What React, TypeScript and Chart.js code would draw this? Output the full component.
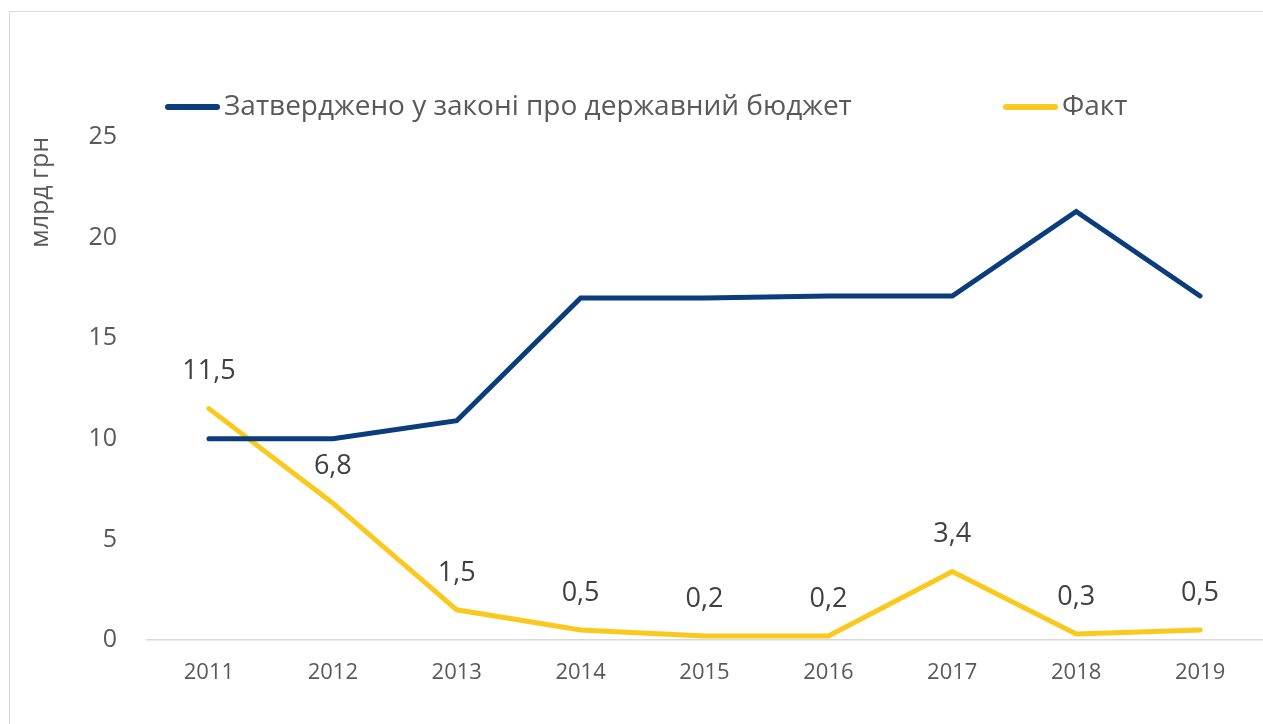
import React, { useEffect, useRef } from 'react';
import { Chart, registerables } from 'chart.js';

Chart.register(...registerables);

const years = ['2011', '2012', '2013', '2014', '2015', '2016', '2017', '2018', '2019'];
const approved = [10, 10, 10.9, 17, 17, 17.1, 17.1, 21.3, 17.1];
const actual = [11.5, 6.8, 1.5, 0.5, 0.2, 0.2, 3.4, 0.3, 0.5];
const yTickValues = [0, 5, 10, 15, 20, 25];
const seriesNames = ['Затверджено у законі про державний бюджет', 'Факт'];
const yAxisTitle = 'млрд грн';

const FONT = "'Open Sans', 'Noto Sans', sans-serif";
const BLUE = '#0B3D7D';
const YELLOW = '#F9C91E';
const GRAY_TEXT = '#595959';
const LABEL_TEXT = '#404040';

const legendPlugin = {
  id: 'customLegend',
  afterDraw(chart: any) {
    const ctx = chart.ctx;
    const items = [
      { lineStart: 165, y: 107 },
      { lineStart: 1003, y: 107 },
    ];
    ctx.save();
    chart.data.datasets.forEach((ds: any, i: number) => {
      const it = items[i];
      ctx.strokeStyle = ds.borderColor;
      ctx.lineWidth = 6;
      ctx.lineCap = 'round';
      ctx.beginPath();
      ctx.moveTo(it.lineStart + 3, it.y);
      ctx.lineTo(it.lineStart + 52, it.y);
      ctx.stroke();
      ctx.fillStyle = GRAY_TEXT;
      ctx.font = `28px ${FONT}`;
      ctx.textAlign = 'left';
      ctx.textBaseline = 'middle';
      ctx.fillText(ds.label, it.lineStart + 59, it.y);
    });
    ctx.restore();
  },
};

const dataLabelPlugin = {
  id: 'dataLabels',
  afterDatasetsDraw(chart: any) {
    const ctx = chart.ctx;
    const meta = chart.getDatasetMeta(1);
    const values = chart.data.datasets[1].data as number[];
    ctx.save();
    ctx.fillStyle = LABEL_TEXT;
    ctx.font = `27px ${FONT}`;
    ctx.textAlign = 'center';
    ctx.textBaseline = 'middle';
    meta.data.forEach((pt: any, i: number) => {
      const txt = values[i].toFixed(1).replace('.', ',');
      ctx.fillText(txt, pt.x, pt.y - 37);
    });
    ctx.restore();
  },
};

export default function App() {
  const ref = useRef<HTMLCanvasElement | null>(null);

  useEffect(() => {
    if (!ref.current) return;
    const chart = new Chart(ref.current, {
      type: 'line',
      data: {
        labels: years,
        datasets: [
          {
            label: seriesNames[0],
            data: approved,
            borderColor: BLUE,
            backgroundColor: BLUE,
            borderWidth: 5,
            pointRadius: 0,
            pointHoverRadius: 0,
            borderCapStyle: 'round',
            borderJoinStyle: 'miter',
            tension: 0,
          },
          {
            label: seriesNames[1],
            data: actual,
            borderColor: YELLOW,
            backgroundColor: YELLOW,
            borderWidth: 5,
            pointRadius: 0,
            pointHoverRadius: 0,
            borderCapStyle: 'round',
            borderJoinStyle: 'miter',
            tension: 0,
          },
        ],
      },
      options: {
        animation: false,
        responsive: false,
        maintainAspectRatio: false,
        layout: { padding: { left: 0, right: 1, top: 137, bottom: 0 } },
        plugins: {
          legend: { display: false },
          tooltip: { enabled: false },
        },
        scales: {
          x: {
            offset: true,
            grid: { display: false, drawTicks: false },
            border: { display: true, color: '#D9D9D9', width: 1.5 },
            ticks: {
              color: GRAY_TEXT,
              font: { family: FONT, size: 22 },
              padding: 20,
              maxRotation: 0,
              autoSkip: false,
            },
            afterFit(scale: any) {
              scale.height = 84;
            },
          },
          y: {
            min: 0,
            max: 25,
            afterBuildTicks(scale: any) {
              scale.ticks = yTickValues.map((v) => ({ value: v }));
            },
            grid: { display: false, drawTicks: false },
            border: { display: false },
            ticks: {
              color: GRAY_TEXT,
              font: { family: FONT, size: 25 },
              padding: 30,
            },
            title: {
              display: true,
              text: yAxisTitle,
              align: 'end',
              color: GRAY_TEXT,
              font: { family: FONT, size: 25 },
              padding: { top: 26, bottom: 0 },
            },
            afterFit(scale: any) {
              scale.width = 147;
            },
          },
        },
      },
      plugins: [legendPlugin, dataLabelPlugin],
    } as any);
    return () => chart.destroy();
  }, []);

  return (
    <div
      style={{
        position: 'fixed',
        left: 0,
        top: 0,
        width: 1263,
        height: 724,
        background: '#fff',
        overflow: 'hidden',
      }}
    >
      <div
        style={{
          position: 'absolute',
          left: 9,
          top: 11,
          width: 1400,
          height: 900,
          border: '1.5px solid #D9D9D9',
          boxSizing: 'border-box',
        }}
      />
      <canvas ref={ref} width={1263} height={724} style={{ position: 'absolute', left: 0, top: 0, display: 'block' }} />
    </div>
  );
}
